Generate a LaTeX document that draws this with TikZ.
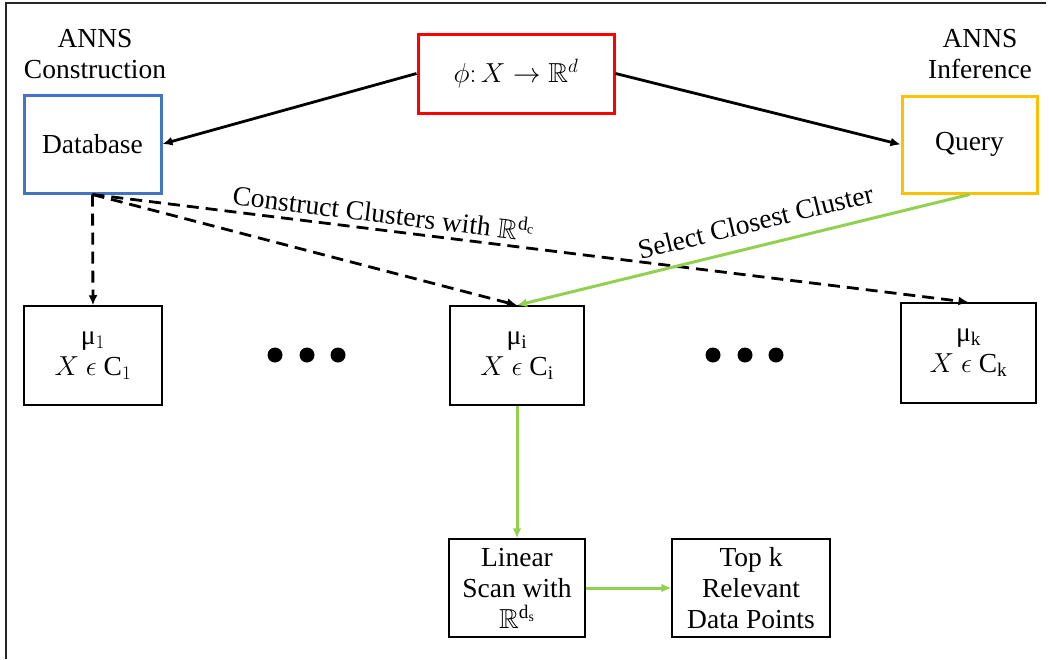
\RequirePackage{fix-cm}
\documentclass[tikz,border=0pt]{standalone}
\usepackage{amssymb}
\usepackage{fontspec}
\setmainfont{Liberation Serif}
\usetikzlibrary{arrows.meta}
\definecolor{dbblue}{HTML}{4472C4}
\definecolor{qyellow}{HTML}{FFC000}
\definecolor{scangreen}{HTML}{92D050}
\begin{document}
\begin{tikzpicture}[x=1pt, y=-1pt, >={Latex[length=10pt,width=9pt]},
  font=\fontsize{27.5}{31}\selectfont,
  box/.style={draw, line width=1.5pt, align=center, inner sep=0pt},
  dots/.style={fill=black}]
\useasboundingbox (0,0) rectangle (1049,659);
\draw[line width=1.5pt, black!85] (6,659) -- (6,3) -- (1046,3);
\node[box, draw=red, line width=3pt, minimum width=196pt, minimum height=79pt] (phi) at (516,73.5) {$\phi{:}\,X \rightarrow \mathbb{R}^{d}$};
\node[align=center] (cons) at (95,54) {ANNS\\Construction};
\node[align=center] (infer) at (980,54) {ANNS\\Inference};
\node[box, draw=dbblue, line width=3pt, minimum width=137pt, minimum height=98pt] (db) at (92.5,144) {Database};
\node[box, draw=qyellow, line width=3pt, minimum width=135pt, minimum height=97pt] (query) at (969.5,144.5) {Query};
\node[box, minimum width=138pt, minimum height=99pt] (mu1) at (93,355.5) {μ$_1$\\$X\ \epsilon\ \mathrm{C}_1$};
\node[box, minimum width=134pt, minimum height=99pt] (mui) at (517,355.5) {μ$_\mathrm{i}$\\$X\ \epsilon\ \mathrm{C}_\mathrm{i}$};
\node[box, minimum width=135pt, minimum height=100pt] (muk) at (968.5,353) {μ$_\mathrm{k}$\\$X\ \epsilon\ \mathrm{C}_\mathrm{k}$};
\node[box, minimum width=136pt, minimum height=98pt] (scan) at (517,588) {Linear\\Scan with\\$\mathbb{R}^{\mathrm{d_s}}$};
\node[box, minimum width=158pt, minimum height=98pt] (topk) at (751,588) {Top k\\Relevant\\Data Points};
\fill[dots] (275,355) circle (7.5pt) (307,355) circle (7.5pt) (338,355) circle (7.5pt);
\fill[dots] (713,355) circle (7.5pt) (745,355) circle (7.5pt) (776,355) circle (7.5pt);
\draw[->, line width=2.8pt] (phi.west) -- (db.east);
\draw[->, line width=2.8pt] (phi.east) -- (query.west);
\draw[->, line width=2.8pt, dash pattern=on 12pt off 7pt] (db.south) -- (mu1.north);
\draw[->, line width=2.8pt, dash pattern=on 12pt off 7pt] (db.south) -- (mui.north);
\draw[->, line width=2.8pt, dash pattern=on 12pt off 7pt] (db.south) -- node[pos=0.33, sloped, above=2pt] {Construct Clusters with $\mathbb{R}^{\mathrm{d_c}}$} (muk.north);
\draw[->, scangreen, line width=3pt] (query.south) -- node[pos=0.46, sloped, above=10pt, black] {Select Closest Cluster} (mui.north);
\draw[->, scangreen, line width=3pt] (mui) -- (scan);
\draw[->, scangreen, line width=3pt] (scan) -- (topk);
\end{tikzpicture}
\end{document}
